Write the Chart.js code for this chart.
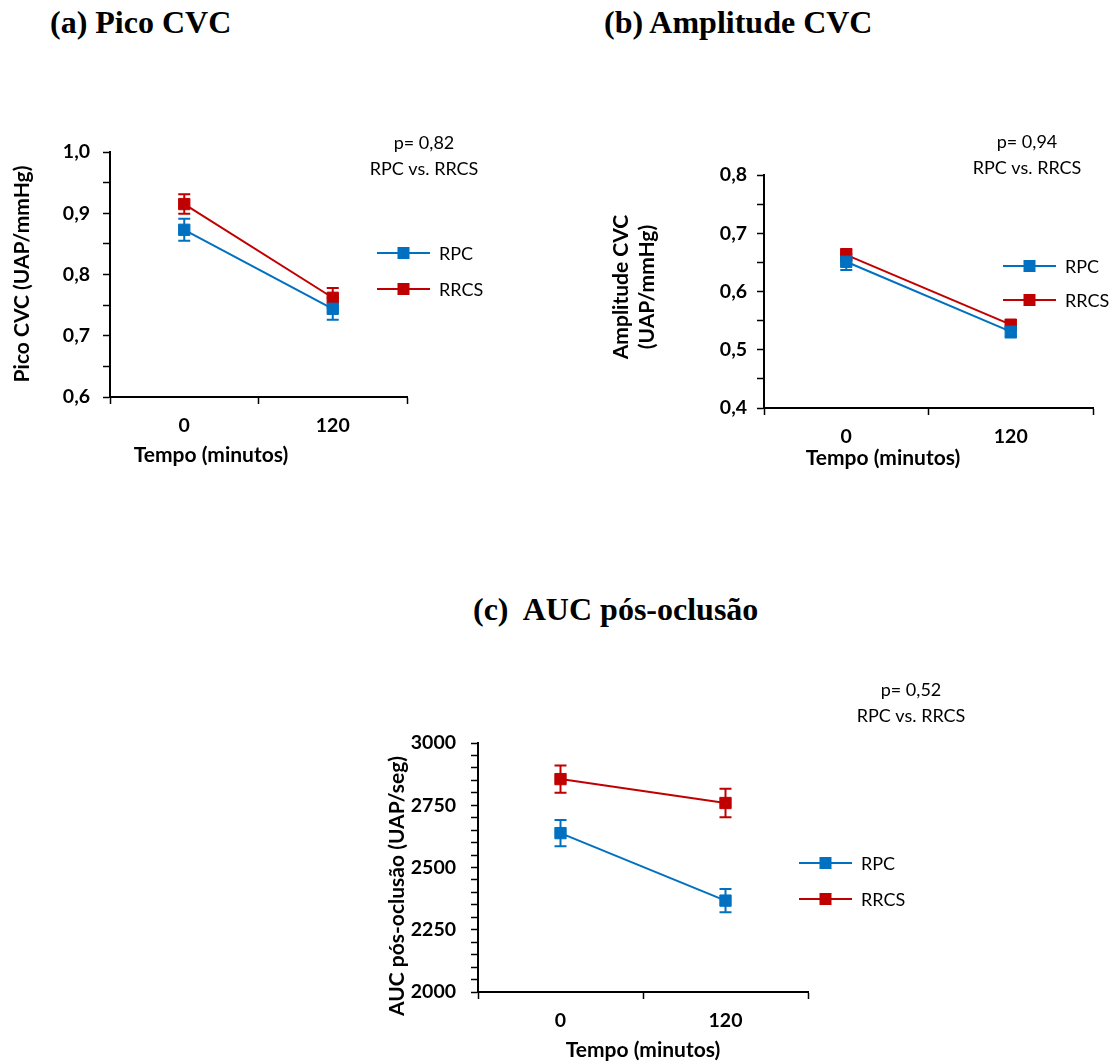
<!DOCTYPE html>
<html>
<head>
<meta charset="utf-8">
<script src="https://cdn.jsdelivr.net/npm/chart.js@4.4.0/dist/chart.umd.min.js"></script>
<style>
  body { margin: 0; background: #fff; width: 1110px; height: 1063px; position: relative; overflow: hidden; }
  .titulo { position: absolute; font-family: "Liberation Serif", serif; font-weight: bold; font-size: 32px; line-height: 1; white-space: pre; }
  .caixa { position: absolute; }
</style>
</head>
<body>
<div class="titulo" style="left:50px; top:6px">(a) Pico CVC</div>
<div class="titulo" style="left:604px; top:6px">(b) Amplitude CVC</div>
<div class="titulo" style="left:473px; top:593px">(c)  AUC pós-oclusão</div>

<div class="caixa" style="left:0; top:100px; width:520px; height:380px"><canvas id="chartPico"></canvas></div>
<div class="caixa" style="left:560px; top:100px; width:550px; height:380px"><canvas id="chartAmp"></canvas></div>
<div class="caixa" style="left:380px; top:640px; width:600px; height:423px"><canvas id="chartAuc"></canvas></div>

<script>
const tempos = ['0', '120'];
const grupos = ['RPC', 'RRCS'];
const cores = ['#0070C0', '#C00000'];

// (a) Pico CVC
const picoRPC = [0.873, 0.744];
const picoRPCerr = [0.018, 0.018];
const picoRRCS = [0.915, 0.762];
const picoRRCSerr = [0.016, 0.016];

// (b) Amplitude CVC
const ampRPC = [0.651, 0.531];
const ampRPCerr = [0.014, 0.010];
const ampRRCS = [0.663, 0.543];
const ampRRCSerr = [0.010, 0.008];

// (c) AUC pos-oclusao
const aucRPC = [2638, 2367];
const aucRPCerr = [53, 47];
const aucRRCS = [2855, 2759];
const aucRRCSerr = [55, 57];

const pValores = ['0,82', '0,94', '0,52'];

const fonte = 'Lato';

const errorBars = {
  id: 'errorBars',
  beforeDatasetsDraw(chart) {
    const ctx = chart.ctx;
    const y = chart.scales.y;
    chart.data.datasets.forEach((ds, i) => {
      const meta = chart.getDatasetMeta(i);
      ctx.save();
      ctx.strokeStyle = ds.borderColor;
      ctx.lineWidth = 2;
      meta.data.forEach((pt, j) => {
        const top = y.getPixelForValue(ds.data[j] + ds.errors[j]);
        const bot = y.getPixelForValue(ds.data[j] - ds.errors[j]);
        ctx.beginPath();
        ctx.moveTo(pt.x, top); ctx.lineTo(pt.x, bot);
        ctx.moveTo(pt.x - 6, top); ctx.lineTo(pt.x + 6, top);
        ctx.moveTo(pt.x - 6, bot); ctx.lineTo(pt.x + 6, bot);
        ctx.stroke();
      });
      ctx.restore();
    });
  }
};

// axis titles, p-value note and legend placed like the original figure
const sideNotes = {
  id: 'sideNotes',
  afterDraw(chart, args, o) {
    const ctx = chart.ctx;
    ctx.save();
    ctx.fillStyle = '#000';
    ctx.textBaseline = 'middle';
    ctx.textAlign = 'center';

    ctx.font = 'bold 21px ' + fonte;
    ctx.fillText('Tempo (minutos)', o.xTitleX, o.xTitleY);
    o.yTitle.forEach((t, k) => {
      ctx.save();
      ctx.translate(o.yTitleX[k], o.yTitleY);
      ctx.rotate(-Math.PI / 2);
      ctx.fillText(t, 0, 0);
      ctx.restore();
    });

    ctx.font = '18px ' + fonte;
    ctx.fillText('p= ' + o.p, o.noteX, o.noteY);
    ctx.fillText('RPC vs. RRCS', o.noteX, o.noteY + 26);

    chart.data.datasets.forEach((ds, i) => {
      const y = o.legY + i * o.legGap;
      ctx.strokeStyle = ds.borderColor;
      ctx.lineWidth = 2;
      ctx.beginPath();
      ctx.moveTo(o.legX, y); ctx.lineTo(o.legX + 53, y);
      ctx.stroke();
      ctx.fillStyle = ds.borderColor;
      ctx.fillRect(o.legX + 26.5 - 6, y - 6, 12, 12);
      ctx.fillStyle = '#000';
      ctx.textAlign = 'left';
      ctx.fillText(ds.label, o.legX + 62, y + 1);
    });
    ctx.restore();
  }
};

function serie(i, data, errors) {
  return {
    label: grupos[i],
    data: data,
    errors: errors,
    borderColor: cores[i],
    backgroundColor: cores[i],
    borderWidth: 2,
    pointStyle: 'rect',
    pointRadius: 8,
    pointHoverRadius: 8,
    pointBorderWidth: 1,
    pointBackgroundColor: cores[i],
    pointBorderColor: cores[i],
    tension: 0
  };
}

function grafico(id, c) {
  new Chart(document.getElementById(id), {
    type: 'line',
    data: { labels: tempos, datasets: [serie(0, c.rpc, c.rpcErr), serie(1, c.rrcs, c.rrcsErr)] },
    plugins: [errorBars, sideNotes],
    options: {
      responsive: true,
      maintainAspectRatio: false,
      animation: false,
      layout: { padding: c.padding },
      plugins: {
        legend: { display: false },
        tooltip: { enabled: false },
        sideNotes: c.notes
      },
      scales: {
        x: {
          offset: true,
          afterFit: s => { s.height = c.xHeight; },
          grid: { display: true, offset: true, drawOnChartArea: false, drawTicks: true, tickLength: 7, tickColor: '#000', tickWidth: 1.5 },
          border: { display: true, color: '#000', width: 2 },
          ticks: { padding: 10, maxRotation: 0, color: '#000', font: { family: fonte, size: 19.5, weight: 'bold' } }
        },
        y: {
          min: c.min, max: c.max,
          afterFit: s => { s.width = c.yWidth; },
          afterBuildTicks: s => {
            s.ticks = [];
            for (let v = c.min; v <= c.max + c.step / 2; v += c.step) s.ticks.push({ value: +v.toFixed(4) });
          },
          grid: { display: true, drawOnChartArea: false, drawTicks: true, tickLength: 7, tickColor: '#000', tickWidth: 1.5 },
          border: { display: true, color: '#000', width: 2 },
          ticks: {
            autoSkip: false, padding: c.yPad, color: '#000',
            font: { family: fonte, size: 19.5, weight: 'bold' },
            callback: c.label
          }
        }
      }
    }
  });
}

const rotuloDecimal = v => (Math.round(v * 100) % 10 === 0 ? v.toFixed(1).replace('.', ',') : '');
const rotuloAuc = v => (Math.round(v) % 250 === 0 ? String(Math.round(v)) : '');

grafico('chartPico', {
  rpc: picoRPC, rpcErr: picoRPCerr, rrcs: picoRRCS, rrcsErr: picoRRCSerr,
  min: 0.6, max: 1.0, step: 0.05, label: rotuloDecimal, yPad: 13,
  padding: { left: 0, top: 52, right: 113, bottom: 0 }, yWidth: 110, xHeight: 83,
  notes: {
    p: pValores[0], noteX: 424, noteY: 43, legX: 377, legY: 153, legGap: 36,
    xTitleX: 211, xTitleY: 355, yTitle: ['Pico CVC (UAP/mmHg)'], yTitleX: [22], yTitleY: 174
  }
});

grafico('chartAmp', {
  rpc: ampRPC, rpcErr: ampRPCerr, rrcs: ampRRCS, rrcsErr: ampRRCSerr,
  min: 0.4, max: 0.8, step: 0.05, label: rotuloDecimal, yPad: 10,
  padding: { left: 0, top: 75, right: 17, bottom: 0 }, yWidth: 204, xHeight: 72,
  notes: {
    p: pValores[1], noteX: 467, noteY: 42, legX: 443, legY: 166, legGap: 34,
    xTitleX: 323, xTitleY: 358, yTitle: ['Amplitude CVC', '(UAP/mmHg)'], yTitleX: [61, 87], yTitleY: 187
  }
});

grafico('chartAuc', {
  rpc: aucRPC, rpcErr: aucRPCerr, rrcs: aucRRCS, rrcsErr: aucRRCSerr,
  min: 2000, max: 3000, step: 50, label: rotuloAuc, yPad: 15,
  padding: { left: 0, top: 103, right: 172, bottom: 0 }, yWidth: 98, xHeight: 71,
  notes: {
    p: pValores[2], noteX: 531, noteY: 50, legX: 419, legY: 223, legGap: 36,
    xTitleX: 263, xTitleY: 410, yTitle: ['AUC pós-oclusão (UAP/seg)'], yTitleX: [17], yTitleY: 246
  }
});
</script>
</body>
</html>
